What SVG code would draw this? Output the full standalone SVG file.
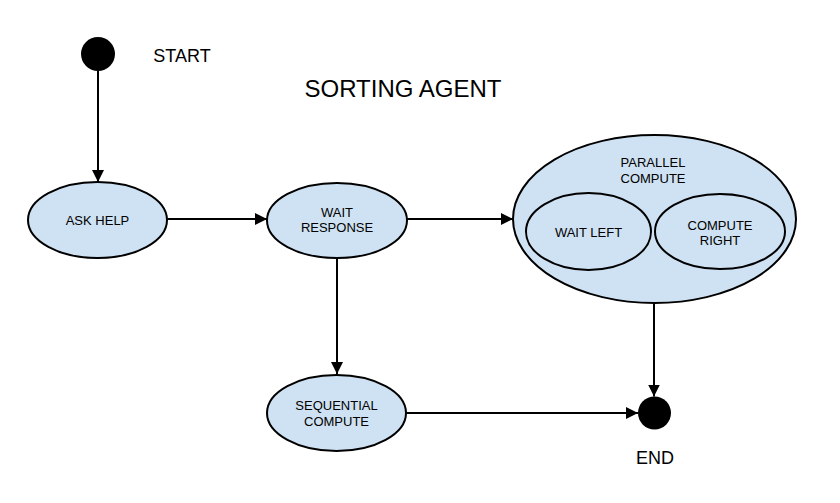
<svg xmlns="http://www.w3.org/2000/svg" width="840" height="503" viewBox="0 0 840 503">
<style>
.st{fill:#cfe2f3;stroke:#000;stroke-width:2}
.t{font-family:"Liberation Sans",Arial,sans-serif;fill:#000;text-anchor:middle}
.s{font-size:13px}
.c{stroke:#000;stroke-width:2;fill:none;marker-end:url(#ah)}
</style>
<defs>
<marker id="ah" viewBox="0 0 10 10" refX="10" refY="5" markerWidth="6" markerHeight="6" markerUnits="strokeWidth" orient="auto">
<path d="M0,0 L10,5 L0,10 Z" fill="#000"/>
</marker>
</defs>
<rect width="840" height="503" fill="#fff"/>
<text class="t" x="403" y="97" style="font-size:24px">SORTING AGENT</text>
<g id="start">
<circle cx="98" cy="54" r="17" fill="#000"/>
<text class="t" x="182" y="62" style="font-size:18px">START</text>
</g>
<g id="end">
<circle cx="654.5" cy="413" r="16.5" fill="#000"/>
<text class="t" x="655" y="464" style="font-size:18px">END</text>
</g>
<g id="ask-help">
<ellipse class="st" cx="97.5" cy="220" rx="69.5" ry="38"/>
<text class="t s" x="97.5" y="224.5">ASK HELP</text>
</g>
<g id="wait-response">
<ellipse class="st" cx="337" cy="220.5" rx="70" ry="37.5"/>
<text class="t s" x="337" y="216.5">WAIT</text>
<text class="t s" x="337" y="232">RESPONSE</text>
</g>
<g id="parallel-compute">
<ellipse class="st" cx="654.5" cy="219" rx="141.5" ry="84"/>
<text class="t s" x="653" y="166.5">PARALLEL</text>
<text class="t s" x="653" y="182.5">COMPUTE</text>
</g>
<g id="wait-left">
<ellipse class="st" cx="588.5" cy="231.5" rx="62.5" ry="38.5"/>
<text class="t s" x="588.5" y="236.5">WAIT LEFT</text>
</g>
<g id="compute-right">
<ellipse class="st" cx="720" cy="231.5" rx="65" ry="37.5"/>
<text class="t s" x="720" y="229.5">COMPUTE</text>
<text class="t s" x="720" y="245">RIGHT</text>
</g>
<g id="sequential-compute">
<ellipse class="st" cx="336.5" cy="413" rx="69.5" ry="38"/>
<text class="t s" x="336.5" y="410">SEQUENTIAL</text>
<text class="t s" x="336.5" y="425.5">COMPUTE</text>
</g>
<g id="connectors">
<path class="c" d="M98,71 L98,182"/>
<path class="c" d="M167,219 L267,219"/>
<path class="c" d="M407,219 L513,219"/>
<path class="c" d="M337,258 L337,374"/>
<path class="c" d="M654,303 L654,396.5"/>
<path class="c" d="M406,413 L638,413"/>
</g>
</svg>
